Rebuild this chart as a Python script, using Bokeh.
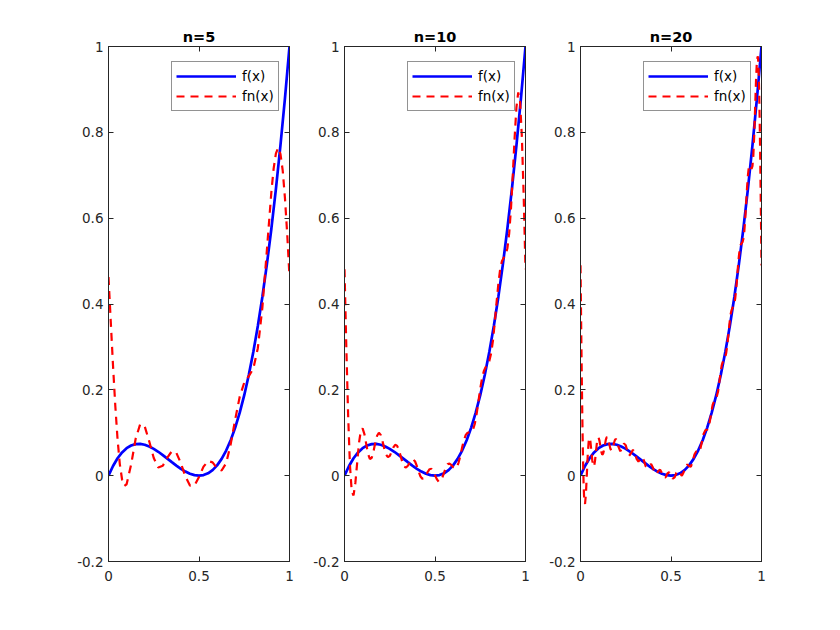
from bokeh.plotting import figure
from bokeh.layouts import row
from bokeh.models import Range1d, FixedTicker, LinearAxis
from bokeh.embed import file_html
from bokeh.resources import INLINE

# ---------------- data ----------------
titles = ["n=5", "n=10", "n=20"]
legend_labels = ["f(x)", "fn(x)"]
x_ticks = [0, 0.5, 1]
x_tick_labels = ["0", "0.5", "1"]
y_ticks = [-0.2, 0, 0.2, 0.4, 0.6, 0.8, 1]
y_tick_labels = ["-0.2", "0", "0.2", "0.4", "0.6", "0.8", "1"]

# f(x): the exact curve
x_f = [0, 0.025, 0.05, 0.075, 0.1, 0.125, 0.15, 0.175, 0.2, 0.225, 0.25, 0.275,
       0.3, 0.325, 0.35, 0.375, 0.4, 0.425, 0.45, 0.475, 0.5, 0.525, 0.55, 0.575,
       0.6, 0.625, 0.65, 0.675, 0.7, 0.725, 0.75, 0.775, 0.8, 0.825, 0.85, 0.875,
       0.9, 0.925, 0.95, 0.975, 1]
y_f = [0, 0.0226, 0.0405, 0.0542, 0.064, 0.0703, 0.0735, 0.0739, 0.072, 0.0681,
       0.0625, 0.0557, 0.048, 0.0398, 0.0315, 0.0234, 0.016, 0.0096, 0.0045, 0.0012,
       0, 0.0013, 0.0055, 0.0129, 0.024, 0.0391, 0.0585, 0.0827, 0.112, 0.1468,
       0.1875, 0.2344, 0.288, 0.3486, 0.4165, 0.4922, 0.576, 0.6683, 0.7695, 0.8799, 1]

# fn(x), n = 5
x_n5 = [0, 0.0125, 0.025, 0.0375, 0.05, 0.0625, 0.075, 0.0875, 0.1, 0.125, 0.15,
        0.175, 0.2, 0.225, 0.25, 0.275, 0.3, 0.325, 0.35, 0.375, 0.4, 0.425, 0.45,
        0.475, 0.5, 0.525, 0.55, 0.575, 0.6, 0.625, 0.65, 0.675, 0.7, 0.725, 0.75,
        0.775, 0.8, 0.825, 0.85, 0.875, 0.9, 0.9125, 0.925, 0.9375, 0.95, 0.9625,
        0.975, 0.9875, 1]
y_n5 = [0.463, 0.359, 0.256, 0.163, 0.085, 0.027, -0.009, -0.024, -0.020, 0.026,
        0.086, 0.120, 0.115, 0.080, 0.041, 0.019, 0.023, 0.042, 0.057, 0.053, 0.029,
        -0.002, -0.023, -0.023, -0.003, 0.021, 0.034, 0.031, 0.017, 0.012, 0.029,
        0.073, 0.131, 0.184, 0.217, 0.232, 0.249, 0.297, 0.391, 0.525, 0.662, 0.716,
        0.751, 0.764, 0.750, 0.711, 0.646, 0.562, 0.463]

# fn(x), n = 10
x_n10 = [0.00, 0.01, 0.02, 0.03, 0.04, 0.05, 0.06, 0.07, 0.08, 0.09,
         0.10, 0.11, 0.12, 0.13, 0.14, 0.15, 0.16, 0.17, 0.18, 0.19,
         0.20, 0.21, 0.22, 0.23, 0.24, 0.25, 0.26, 0.27, 0.28, 0.29,
         0.30, 0.31, 0.32, 0.33, 0.34, 0.35, 0.36, 0.37, 0.38, 0.39,
         0.40, 0.41, 0.42, 0.43, 0.44, 0.45, 0.46, 0.47, 0.48, 0.49,
         0.50, 0.51, 0.52, 0.53, 0.54, 0.55, 0.56, 0.57, 0.58, 0.59,
         0.60, 0.61, 0.62, 0.63, 0.64, 0.65, 0.66, 0.67, 0.68, 0.69,
         0.70, 0.71, 0.72, 0.73, 0.74, 0.75, 0.76, 0.77, 0.78, 0.79,
         0.80, 0.81, 0.82, 0.83, 0.84, 0.85, 0.86, 0.87, 0.88, 0.89,
         0.90, 0.91, 0.92, 0.93, 0.94, 0.95, 0.96, 0.97, 0.98, 0.99, 1.00]
y_n10 = [0.481, 0.301, 0.142, 0.025, -0.037, -0.046, -0.017, 0.030, 0.076, 0.104,
         0.110, 0.097, 0.074, 0.051, 0.039, 0.041, 0.056, 0.077, 0.093, 0.100,
         0.095, 0.080, 0.063, 0.049, 0.043, 0.046, 0.055, 0.066, 0.072, 0.070,
         0.061, 0.046, 0.031, 0.021, 0.019, 0.023, 0.030, 0.037, 0.038, 0.033,
         0.022, 0.009, -0.002, -0.007, -0.006, 0.001, 0.009, 0.015, 0.016, 0.010,
         0.001, -0.008, -0.014, -0.012, -0.005, 0.007, 0.019, 0.027, 0.028, 0.025,
         0.020, 0.017, 0.019, 0.030, 0.046, 0.066, 0.083, 0.095, 0.100, 0.101,
         0.101, 0.107, 0.121, 0.144, 0.173, 0.203, 0.227, 0.244, 0.253, 0.259,
         0.267, 0.285, 0.314, 0.356, 0.403, 0.447, 0.481, 0.500, 0.508, 0.515,
         0.530, 0.565, 0.624, 0.703, 0.788, 0.859, 0.893, 0.872, 0.789, 0.652, 0.481]

# fn(x), n = 20
x_n20 = [0, 0.0025, 0.005, 0.0075, 0.01, 0.0125, 0.015, 0.0175, 0.02, 0.025,
         0.03, 0.035, 0.04, 0.045, 0.05, 0.055, 0.06, 0.065, 0.07, 0.075, 0.08,
         0.085, 0.09, 0.095, 0.10, 0.105, 0.11, 0.115, 0.12, 0.125, 0.13, 0.135,
         0.14, 0.145, 0.15, 0.155, 0.16, 0.165, 0.17, 0.175, 0.18, 0.185, 0.19, 0.195,
         0.20, 0.21, 0.22, 0.23, 0.24, 0.25, 0.26, 0.27, 0.28, 0.29,
         0.30, 0.31, 0.32, 0.33, 0.34, 0.35, 0.36, 0.37, 0.38, 0.39,
         0.40, 0.41, 0.42, 0.43, 0.44, 0.45, 0.46, 0.47, 0.48, 0.49,
         0.50, 0.51, 0.52, 0.53, 0.54, 0.55, 0.56, 0.57, 0.58, 0.59,
         0.60, 0.61, 0.62, 0.63, 0.64, 0.65, 0.66, 0.67, 0.68, 0.69,
         0.70, 0.71, 0.72, 0.73, 0.74, 0.75, 0.76, 0.77, 0.78, 0.79, 0.80,
         0.805, 0.81, 0.815, 0.82, 0.825, 0.83, 0.835, 0.84, 0.845, 0.85, 0.855,
         0.86, 0.865, 0.87, 0.875, 0.88, 0.885, 0.89, 0.895, 0.90, 0.905, 0.91, 0.915,
         0.92, 0.925, 0.93, 0.935, 0.94, 0.945, 0.95, 0.955, 0.96, 0.965, 0.97,
         0.975, 0.98, 0.9825, 0.985, 0.9875, 0.99, 0.9925, 0.995, 0.9975, 1]
y_n20 = [0.490, 0.395, 0.303, 0.216, 0.138, 0.071, 0.017, -0.024, -0.051, -0.066,
         -0.042, 0.003, 0.048, 0.079, 0.088, 0.079, 0.057, 0.036, 0.022, 0.022, 0.034,
         0.054, 0.074, 0.086, 0.089, 0.081, 0.068, 0.056, 0.049, 0.051, 0.060, 0.072,
         0.084, 0.090, 0.089, 0.082, 0.072, 0.063, 0.059, 0.061, 0.067, 0.076, 0.083, 0.086,
         0.083, 0.067, 0.057, 0.064, 0.075, 0.071, 0.055, 0.047, 0.053, 0.060,
         0.054, 0.039, 0.033, 0.039, 0.043, 0.036, 0.022, 0.018, 0.024, 0.027,
         0.019, 0.007, 0.004, 0.011, 0.014, 0.006, -0.004, -0.004, 0.005, 0.008,
         0.000, -0.007, -0.004, 0.007, 0.011, 0.005, 0.000, 0.008, 0.021, 0.026,
         0.022, 0.021, 0.034, 0.050, 0.057, 0.055, 0.059, 0.077, 0.097, 0.106,
         0.107, 0.116, 0.140, 0.165, 0.176, 0.180, 0.196, 0.227, 0.257, 0.270, 0.277,
         0.286, 0.301, 0.320, 0.341, 0.361, 0.377, 0.386, 0.391, 0.395, 0.401, 0.414,
         0.434, 0.459, 0.487, 0.511, 0.529, 0.538, 0.541, 0.544, 0.552, 0.569, 0.598, 0.633,
         0.670, 0.700, 0.719, 0.724, 0.719, 0.715, 0.721, 0.747, 0.795, 0.859, 0.924,
         0.970, 0.977, 0.962, 0.931, 0.886, 0.827, 0.756, 0.674, 0.584, 0.490]

series_x = [x_n5, x_n10, x_n20]
series_y = [y_n5, y_n10, y_n20]

# ---------------- styling ----------------
FONT = "DejaVu Sans"
AX = "#262626"


def style_axis(ax, ticks, labels, show_labels):
    ax.ticker = FixedTicker(ticks=ticks)
    ax.major_label_overrides = dict(zip(ticks, labels if show_labels else [""] * len(ticks)))
    ax.major_tick_in = 5
    ax.major_tick_out = 0
    ax.minor_tick_line_color = None
    ax.axis_line_color = AX
    ax.major_tick_line_color = AX
    ax.major_label_text_color = AX
    ax.major_label_text_font = FONT
    ax.major_label_text_font_size = "13.5px" if show_labels else "0px"
    ax.major_label_standoff = 5 if show_labels else 0


def make_panel(i, left_border):
    p = figure(frame_width=181, frame_height=515,
               x_range=Range1d(0, 1), y_range=Range1d(-0.2, 1),
               output_backend="svg", toolbar_location=None,
               min_border_left=left_border, min_border_right=10,
               min_border_top=46, min_border_bottom=40)
    p.background_fill_color = "white"
    p.border_fill_color = "white"
    p.outline_line_color = AX
    p.outline_line_width = 1
    p.xgrid.visible = False
    p.ygrid.visible = False

    p.title.text = titles[i]
    p.title.align = "center"
    p.title.text_font = FONT
    p.title.text_font_size = "14.5px"
    p.title.text_font_style = "bold"
    p.title.text_color = "black"
    p.title.standoff = 3

    style_axis(p.xaxis[0], x_ticks, x_tick_labels, True)
    p.xaxis[0].major_label_standoff = 9
    style_axis(p.yaxis[0], y_ticks, y_tick_labels, True)
    top = LinearAxis()
    style_axis(top, x_ticks, x_tick_labels, False)
    p.add_layout(top, "above")
    right = LinearAxis()
    style_axis(right, y_ticks, y_tick_labels, False)
    p.add_layout(right, "right")

    p.line(x_f, y_f, line_color="#0000ff", line_width=2.7, legend_label=legend_labels[0])
    p.line(series_x[i], series_y[i], line_color="#ff0000", line_width=2.2,
           line_dash="8 6", legend_label=legend_labels[1])

    lg = p.legend[0]
    lg.location = (63, 450)
    lg.border_line_color = AX
    lg.border_line_width = 1
    lg.background_fill_color = "white"
    lg.background_fill_alpha = 1
    lg.padding = 4
    lg.spacing = 0
    lg.margin = 0
    lg.glyph_width = 60
    lg.glyph_height = 20
    lg.label_height = 20
    lg.label_standoff = 6
    lg.label_text_font = FONT
    lg.label_text_font_size = "13.5px"
    lg.label_text_color = "black"
    return p


panels = [make_panel(0, 108), make_panel(1, 45), make_panel(2, 45)]
layout = row(*panels)

open("out.html", "w").write(file_html(layout, INLINE))
